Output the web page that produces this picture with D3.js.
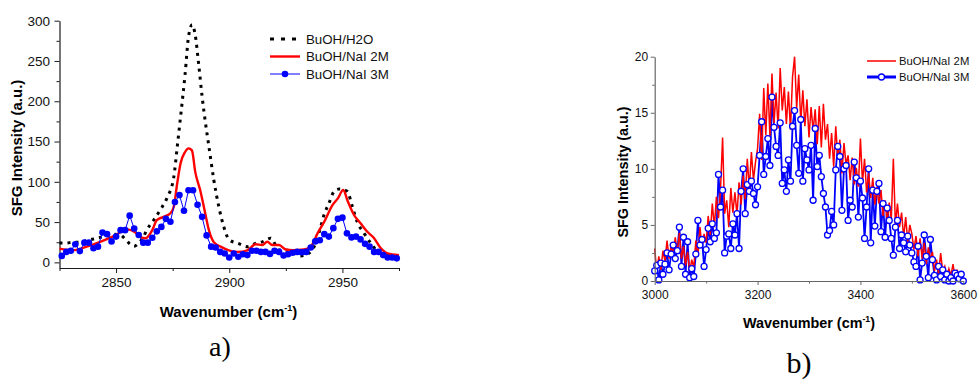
<!DOCTYPE html>
<html>
<head>
<meta charset="utf-8">
<script src="https://cdn.jsdelivr.net/npm/d3@7"></script>
<style>
  body { margin: 0; background: #fff; }
  svg { display: block; }
</style>
</head>
<body>
<svg id="chart" width="978" height="382"></svg>
<script>
// ---- panel a data (C-H region) ----
const waterX = [2825, 2828, 2831, 2834, 2837, 2840, 2843, 2846, 2849, 2852, 2854, 2856, 2858, 2860, 2862, 2863.5, 2866.5, 2869.5, 2872.5, 2875.5, 2877, 2878.5, 2880.5, 2882, 2883.6, 2884.8, 2886.6, 2888, 2889.5, 2891, 2893.2, 2895.4, 2897.6, 2900, 2904, 2908, 2911.6, 2914.6, 2918.3, 2922, 2925.7, 2931.6, 2935, 2938.2, 2940.4, 2942, 2944, 2946.3, 2948.5, 2950.5, 2952.2, 2954.4, 2956.6, 2959.6, 2962.5, 2965, 2968, 2972, 2975];
const waterY = [24, 24, 25, 25, 27, 29, 31, 33, 35, 34, 29, 23, 20, 24, 31, 40, 52, 65, 80, 106, 143, 181, 234, 280, 295, 285, 243, 206, 173, 144, 102, 69, 44, 28, 23.5, 19.5, 23.5, 25.5, 30, 15.5, 15, 8, 11, 24, 44, 60, 73, 88, 91, 90, 88, 69, 50, 36, 24, 15, 10, 7, 5];

const nai2X = [2825, 2831, 2837, 2843, 2849, 2855, 2858, 2861, 2863, 2866, 2868, 2871, 2874, 2875.5, 2877, 2878.5, 2880.5, 2882, 2883.5, 2885, 2887.3, 2889, 2891, 2893.2, 2896.2, 2899.8, 2903.7, 2908, 2911.6, 2914.6, 2916.8, 2919, 2922, 2925, 2928, 2933, 2936, 2939, 2942, 2945.6, 2948, 2950.4, 2952.2, 2955.2, 2958, 2961, 2964, 2967, 2970, 2975];
const nai2Y = [17, 15, 19.5, 25.5, 32.5, 41, 38, 31, 30, 40, 52.5, 56.5, 61, 69, 98, 123, 137, 141.5, 139, 112, 88, 66, 40, 25, 19.5, 15, 13, 15, 22.5, 21.5, 25.5, 21.5, 21.5, 16, 15, 16, 19.5, 36, 50.5, 71, 79.5, 90, 77, 58.5, 48.5, 38, 30, 17.5, 11, 9];

const nai3X = [2826, 2828, 2830, 2832, 2834, 2836, 2838, 2840, 2842, 2844, 2846, 2848, 2850, 2852, 2854, 2856, 2858, 2860, 2862, 2864, 2866, 2868, 2870, 2872, 2874, 2876, 2878, 2880, 2882, 2884, 2886, 2888, 2890, 2892, 2894, 2896, 2898, 2900, 2902, 2904, 2906, 2908, 2910, 2912, 2914, 2916, 2918, 2920, 2922, 2924, 2926, 2928, 2930, 2932, 2934, 2936, 2938, 2940, 2942, 2944, 2946, 2948, 2950, 2952, 2954, 2956, 2958, 2960, 2962, 2964, 2966, 2968, 2970, 2972, 2974];
const nai3Y = [8, 13, 14.5, 22.5, 14, 24.5, 24.5, 17.5, 19.5, 37, 35, 26, 32, 40, 40, 58, 42, 34, 24.5, 24.5, 30.5, 38.5, 44, 54, 50.5, 75, 83.5, 64, 89.5, 89.5, 71.5, 56.5, 33.5, 19.5, 18.5, 13, 11, 6, 11, 7, 10, 9, 14.5, 14.5, 13, 13, 10.5, 14.5, 13, 8.5, 10, 12, 13, 12.5, 13, 18.5, 26, 27.5, 35, 32, 42.5, 54, 55.5, 36, 31, 32, 28.5, 23, 19.5, 13, 13, 9, 6, 6, 5];

const xTicksA = [2850, 2900, 2950];
const xMinorA = [2825, 2875, 2925, 2975];
const yTicksA = [0, 50, 100, 150, 200, 250, 300];
const yMinorA = [25, 75, 125, 175, 225, 275];
const legendA = ['BuOH/H2O', 'BuOH/NaI 2M', 'BuOH/NaI 3M'];

// ---- panel b data (O-H region), wavenumber grid every 4 cm-1 ----
const gridB = d3.range(3000, 3601, 4);
const nai2B = [
  2.9, 0.8, 2.2, 1.0, 2.7,   1.8, 3.6, 2.0, 3.2, 2.4,   3.9, 2.5, 4.3, 2.0, 3.1,
  1.4, 2.6, 0.8, 1.9, 1.2,   3.6, 2.2, 4.8, 3.0, 4.2,   3.4, 5.8, 4.1, 6.9, 4.8,
  7.5, 5.6, 8.2, 12.8, 6.0,  7.2, 4.8, 8.3, 6.1, 7.9,   5.9, 8.8, 6.8, 9.4, 7.3,
  10.9, 8.2, 11.5, 9.0, 10.6, 11.8, 14.9, 10.8, 17.2, 13.0, 17.6, 12.9, 18.5, 14.1, 16.8,
  13.6, 19.0, 15.2, 17.3, 14.0, 16.9, 13.5, 18.2, 20.0, 15.4, 18.4, 14.2, 17.0, 13.8, 16.2,
  12.8, 15.5, 13.4, 15.3, 12.2, 15.6, 11.9, 15.8, 12.6, 14.0, 10.9, 13.2, 10.2, 13.8, 11.0,
  12.6, 9.6, 12.3, 10.4, 11.2, 9.0, 11.0, 8.6, 10.1, 8.4,  12.7, 8.8, 10.9, 7.9, 9.6,
  7.4, 9.2, 6.8, 8.4, 6.9,   8.1, 5.8, 7.2, 5.2, 7.0,   5.5, 10.9, 5.0, 6.9, 4.8,
  6.1, 3.9, 5.7, 3.5, 5.0,   4.2, 2.8, 4.0, 2.2, 3.8,   2.0, 3.4, 1.5, 3.0, 1.9,
  2.6, 0.9, 1.9, 0.6, 2.5,   0.8, 1.3, 0.4, 1.1, 0.5,   1.5, 0.3, 1.0, 0.2, 0.8, 0.6
];
const nai3B = [
  0.9, 1.4, 0.1, 1.6, 0.6,   1.5, 2.5, 1.0, 2.4, 3.2,   2.0, 2.7, 4.8, 1.3, 3.9,
  0.6, 3.5, 0.3, 1.1, 0.4,   2.4, 5.4, 3.2, 3.7, 1.3,   2.8, 4.7, 3.5, 5.1, 3.8,
  4.3, 9.5, 6.6, 8.1, 2.5,   4.0, 4.2, 2.9, 5.1, 4.1,   6.0, 2.9, 8.0, 10.0, 6.0,
  8.6, 8.0, 8.9, 7.8, 6.8,   8.4, 11.2, 14.2, 9.5, 11.1, 12.7, 10.3, 16.4, 13.7, 12.0,
  11.2, 14.1, 8.7, 9.9, 8.0, 10.8, 8.9, 13.8, 15.2, 12.1, 9.6, 14.4, 8.9, 11.8, 10.8,
  9.9, 12.1, 7.2, 13.6, 10.2, 11.2, 9.3, 7.8, 6.6, 4.1,  4.5, 6.2, 5.0, 9.9, 12.0,
  11.1, 6.3, 10.0, 10.3, 5.4, 7.2, 6.6, 10.6, 9.2, 5.7,  8.9, 7.4, 3.8, 6.6, 10.0,
  3.4, 8.1, 4.9, 8.0, 8.7,   4.4, 6.9, 3.9, 6.5, 5.4,   3.8, 2.3, 4.8, 5.4, 2.9,
  4.1, 3.4, 2.6, 4.0, 3.2,   2.5, 1.7, 1.3, 3.1, 0.1,   1.6, 4.1, 2.2, 0.3, 3.7,
  1.9, 0.5, 0.1, 1.3, 0.4,   1.0, 0.1, 0.6, 0.0, 0.3,   0.0, 0.7, 0.5, 0.2, 0.6, 0.0
];

const xTicksB = [3000, 3200, 3400, 3600];
const xMinorB = [3100, 3300, 3500];
const yTicksB = [0, 5, 10, 15, 20];
const yMinorB = [2.5, 7.5, 12.5, 17.5];
const legendB = ['BuOH/NaI 2M', 'BuOH/NaI 3M'];

const FONT = 'Liberation Sans, Arial, sans-serif';
const SERIF = 'Liberation Serif, Times New Roman, serif';
const svg = d3.select('#chart');

function zip(xs, ys) {
  return xs.map((x, i) => ({ x: x, y: ys[i] }));
}

function drawAxes(g, x, y, cfg) {
  const bottom = y.range()[0];
  const left = x.range()[0];

  g.append('g')
    .attr('transform', `translate(0,${bottom})`)
    .call(d3.axisBottom(x).tickValues(cfg.xMinor).tickSize(cfg.minor).tickFormat(''))
    .call(a => a.select('.domain').remove())
    .selectAll('line').attr('stroke', cfg.color);

  g.append('g')
    .attr('transform', `translate(${left},0)`)
    .call(d3.axisLeft(y).tickValues(cfg.yMinor).tickSize(cfg.minor).tickFormat(''))
    .call(a => a.select('.domain').remove())
    .selectAll('line').attr('stroke', cfg.color);

  const xa = g.append('g')
    .attr('transform', `translate(0,${bottom})`)
    .call(d3.axisBottom(x).tickValues(cfg.xTicks).tickFormat(d3.format('d'))
      .tickSize(cfg.major).tickSizeOuter(0).tickPadding(cfg.xPad));
  const ya = g.append('g')
    .attr('transform', `translate(${left},0)`)
    .call(d3.axisLeft(y).tickValues(cfg.yTicks).tickFormat(d3.format('d'))
      .tickSize(cfg.major).tickSizeOuter(0).tickPadding(cfg.yPad));

  [xa, ya].forEach(a => {
    a.attr('font-family', FONT).attr('font-size', cfg.fontSize);
    a.select('.domain').attr('stroke', cfg.color).attr('stroke-width', 1.2);
    a.selectAll('line').attr('stroke', cfg.color);
    a.selectAll('text').attr('fill', '#111');
  });
}

function axisTitles(g, cfg) {
  g.append('text')
    .attr('transform', `translate(${cfg.yx},${cfg.yy}) rotate(-90)`)
    .attr('text-anchor', 'middle')
    .attr('dy', '0.35em')
    .attr('font-family', FONT)
    .attr('font-weight', 'bold')
    .attr('font-size', cfg.size)
    .text('SFG Intensity (a.u.)');

  const t = g.append('text')
    .attr('x', cfg.xx)
    .attr('y', cfg.xy)
    .attr('text-anchor', 'middle')
    .attr('font-family', FONT)
    .attr('font-weight', 'bold')
    .attr('font-size', cfg.size);
  t.append('tspan').text('Wavenumber (cm');
  t.append('tspan').attr('font-size', cfg.size * 0.6).attr('dy', -cfg.size * 0.4).text('-1');
  t.append('tspan').attr('dy', cfg.size * 0.4).text(')');
}

// ================= panel a =================
const xA = d3.scaleLinear().domain([2825, 2975]).range([59.5, 399]);
const yA = d3.scaleLinear().domain([-7, 300]).range([268, 20.7]);
const gA = svg.append('g');

drawAxes(gA, xA, yA, {
  xTicks: xTicksA, xMinor: xMinorA, yTicks: yTicksA, yMinor: yMinorA,
  major: 5, minor: 3, xPad: 4, yPad: 4.5, fontSize: 13.5, color: '#1a1a1a'
});

const lineA = d3.line().x(d => xA(d.x)).y(d => yA(d.y)).curve(d3.curveMonotoneX);

gA.append('path')
  .datum(zip(waterX, waterY))
  .attr('d', lineA)
  .attr('fill', 'none')
  .attr('stroke', '#000')
  .attr('stroke-width', 3)
  .attr('stroke-dasharray', '3,5');

gA.append('path')
  .datum(zip(nai2X, nai2Y))
  .attr('d', lineA)
  .attr('fill', 'none')
  .attr('stroke', '#ff0000')
  .attr('stroke-width', 2.4);

gA.append('path')
  .datum(zip(nai3X, nai3Y))
  .attr('d', d3.line().x(d => xA(d.x)).y(d => yA(d.y)))
  .attr('fill', 'none')
  .attr('stroke', '#0000ff')
  .attr('stroke-width', 1);

gA.selectAll('.dotA')
  .data(zip(nai3X, nai3Y))
  .enter().append('circle')
  .attr('class', 'dotA')
  .attr('cx', d => xA(d.x))
  .attr('cy', d => yA(d.y))
  .attr('r', 3.3)
  .attr('fill', '#0000ff');

axisTitles(gA, { yx: 17, yy: 148, xx: 228.5, xy: 317, size: 15 });

// legend a
const legA = gA.append('g').attr('font-family', FONT).attr('font-size', 13.3);
legendA.forEach((name, i) => {
  const yy = 39 + i * 17.5;
  const row = legA.append('g');
  const ln = row.append('line').attr('x1', 270).attr('x2', 300).attr('y1', yy).attr('y2', yy);
  if (i === 0) ln.attr('stroke', '#000').attr('stroke-width', 3).attr('stroke-dasharray', '4,7');
  if (i === 1) ln.attr('stroke', '#ff0000').attr('stroke-width', 2.4);
  if (i === 2) {
    ln.attr('stroke', '#0000ff').attr('stroke-width', 1);
    row.append('circle').attr('cx', 285).attr('cy', yy).attr('r', 3.3).attr('fill', '#0000ff');
  }
  row.append('text').attr('x', 306).attr('y', yy).attr('dy', '0.35em').attr('fill', '#111').text(name);
});

svg.append('text')
  .attr('x', 220).attr('y', 356)
  .attr('text-anchor', 'middle')
  .attr('font-family', SERIF)
  .attr('font-size', 28)
  .text('a)');

// ================= panel b =================
const xB = d3.scaleLinear().domain([3000, 3600]).range([654.7, 963.3]);
const yB = d3.scaleLinear().domain([0, 20]).range([281, 56.7]);
const gB = svg.append('g');

const lineB = d3.line().x(d => xB(d.x)).y(d => yB(d.y));

gB.append('path')
  .datum(zip(gridB, nai3B))
  .attr('d', lineB)
  .attr('fill', 'none')
  .attr('stroke', '#0000ff')
  .attr('stroke-width', 1.8);

gB.append('path')
  .datum(zip(gridB, nai2B))
  .attr('d', lineB)
  .attr('fill', 'none')
  .attr('stroke', '#ff0000')
  .attr('stroke-width', 1.5);

gB.selectAll('.dotB')
  .data(zip(gridB, nai3B))
  .enter().append('circle')
  .attr('class', 'dotB')
  .attr('cx', d => xB(d.x))
  .attr('cy', d => yB(d.y))
  .attr('r', 3)
  .attr('fill', '#fff')
  .attr('stroke', '#0000ff')
  .attr('stroke-width', 1.3);

drawAxes(gB, xB, yB, {
  xTicks: xTicksB, xMinor: xMinorB, yTicks: yTicksB, yMinor: yMinorB,
  major: 4, minor: 2.5, xPad: 5, yPad: 2.5, fontSize: 12, color: '#666'
});

axisTitles(gB, { yx: 622.7, yy: 172, xx: 809, xy: 328, size: 14.4 });

// legend b
const legB = gB.append('g').attr('font-family', FONT).attr('font-size', 11.3);
legendB.forEach((name, i) => {
  const yy = 61 + i * 16;
  const row = legB.append('g');
  const ln = row.append('line').attr('x1', 867).attr('x2', 896).attr('y1', yy).attr('y2', yy);
  if (i === 0) ln.attr('stroke', '#ff0000').attr('stroke-width', 1.5);
  if (i === 1) {
    ln.attr('stroke', '#0000ff').attr('stroke-width', 3);
    row.append('circle').attr('cx', 881.5).attr('cy', yy).attr('r', 3)
      .attr('fill', '#fff').attr('stroke', '#0000ff').attr('stroke-width', 1.3);
  }
  row.append('text').attr('x', 899).attr('y', yy).attr('dy', '0.35em').attr('fill', '#111').text(name);
});

svg.append('text')
  .attr('x', 799).attr('y', 373)
  .attr('text-anchor', 'middle')
  .attr('font-family', SERIF)
  .attr('font-size', 30)
  .text('b)');
</script>
</body>
</html>
